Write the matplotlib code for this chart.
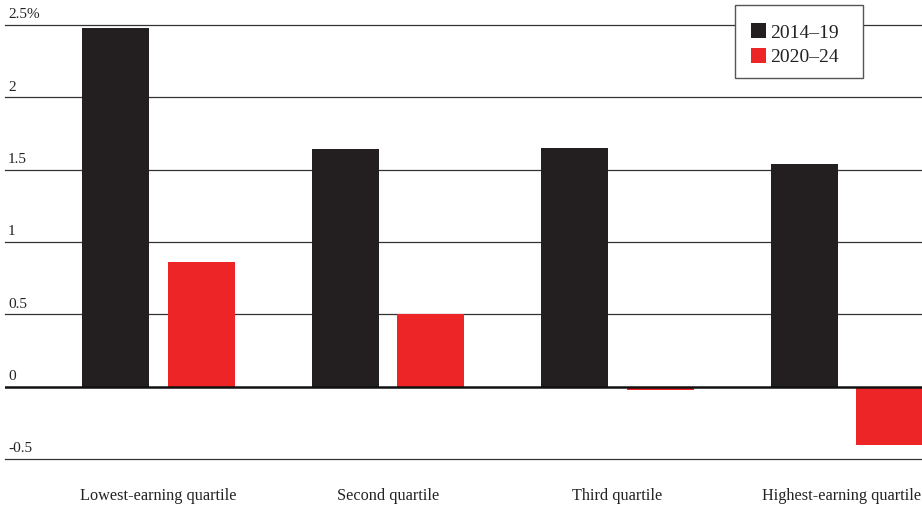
import numpy as np
import matplotlib
matplotlib.use("Agg")
import matplotlib.pyplot as plt
from matplotlib.patches import Rectangle
import matplotlib.transforms as mtransforms

# Dados
categorias = ["Lowest-earning quartile", "Second quartile", "Third quartile", "Highest-earning quartile"]
serie_2014_19 = [2.48, 1.64, 1.65, 1.54]
serie_2020_24 = [0.86, 0.50, -0.02, -0.40]
rotulos_legenda = ["2014\u201319", "2020\u201324"]
rotulos_y = ["-0.5", "0", "0.5", "1", "1.5", "2", "2.5%"]
valores_y = [-0.5, 0, 0.5, 1, 1.5, 2, 2.5]

PRETO = "#231f20"
VERMELHO = "#ee2526"

plt.rcParams["font.family"] = ["Liberation Serif", "DejaVu Serif"]

W, H = 922, 508
fig = plt.figure(figsize=(W / 100, H / 100), dpi=100)
# eixo posicionado em pixels
esq, dir_, topo, base = 5, 922, 25, 459
ax = fig.add_axes([esq / W, (H - base) / H, (dir_ - esq) / W, (base - topo) / H])

x = np.arange(len(categorias))
largura = 0.292
desloc = 0.187
ax.bar(x - desloc, serie_2014_19, largura, color=PRETO, zorder=2)
ax.bar(x + desloc, serie_2020_24, largura, color=VERMELHO, zorder=2)

ax.set_xlim(-0.669, 3.327)
ax.set_ylim(-0.5, 2.5)

# linhas de grade
for v in valores_y:
    if v == 0:
        ax.axhline(v, color="#111111", lw=1.8, zorder=3)
    else:
        ax.axhline(v, color="#333333", lw=0.9, zorder=1, clip_on=False)

# rótulos do eixo y acima das linhas
for v, r in zip(valores_y, rotulos_y):
    ax.text(3 / (dir_ - esq), v + 0.025, r, transform=ax.get_yaxis_transform(),
            ha="left", va="bottom", fontsize=11, color="#222222")

ax.set_yticks([])
ax.set_xticks(x)
ax.set_xticklabels(categorias, fontsize=11.7, color="#222222")
ax.tick_params(axis="x", length=0, pad=21)
# último rótulo encostado na borda direita
ult = ax.get_xticklabels()[-1]
ult.set_transform(ult.get_transform() + mtransforms.ScaledTranslation(-5 / 100, 0, fig.dpi_scale_trans))
for s in ax.spines.values():
    s.set_visible(False)

# legenda desenhada à mão (coordenadas em pixels, origem no topo)
def px(xp, yp):
    return xp / W, 1 - yp / H

caixa = Rectangle(px(735, 78), 128 / W, 73 / H, transform=fig.transFigure,
                  facecolor="white", edgecolor="#555555", lw=1.0, zorder=10)
fig.patches.append(caixa)
for i, (rot, cor) in enumerate(zip(rotulos_legenda, [PRETO, VERMELHO])):
    y0 = 23 + 25 * i
    fig.patches.append(Rectangle(px(751, y0 + 15), 15 / W, 15 / H, transform=fig.transFigure,
                                 facecolor=cor, edgecolor="none", zorder=11))
    fig.text(*px(770, y0 + 8), rot, fontsize=14, ha="left", va="center_baseline",
             color="#222222", zorder=12)

plt.savefig("out.png", dpi=100)
